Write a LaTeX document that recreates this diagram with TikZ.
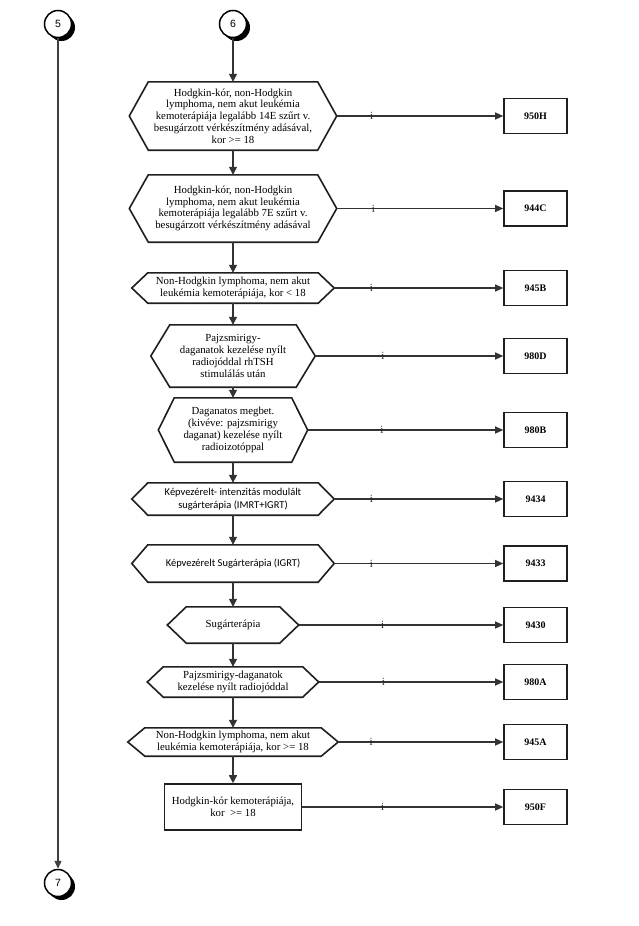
\documentclass[tikz,border=0pt]{standalone}
\usepackage{fontspec}
\setmainfont{Liberation Serif}
\newfontfamily\calibfont{Carlito}
\newfontfamily\arialfont{Liberation Sans}
\usetikzlibrary{arrows.meta,calc,shadows}
\newcommand\hexo[2]{%
  \draw[hexline] (#1.north west) -- (#1.north east) -- ([xshift=#2]#1.east)
    -- (#1.south east) -- (#1.south west) -- ([xshift=-#2]#1.west) -- cycle;
  \coordinate (#1e) at ([xshift=#2]#1.east);}
\begin{document}
\begin{tikzpicture}[x=1pt,y=-1pt,
  line join=miter,
  hexbox/.style={rectangle, inner sep=0pt, align=center, font=\fontsize{10.8}{11.8}\selectfont},
  sansbox/.style={hexbox, font=\calibfont\fontsize{10.5}{12.5}\selectfont},
  hexline/.style={draw=black!88, line width=1.6pt},
  rectbox/.style={hexbox, draw=black!88, line width=1.6pt},
  codebox/.style={draw=black!88, line width=1.6pt, minimum width=63pt, minimum height=35pt,
    inner sep=0pt, font=\fontsize{10}{12}\selectfont\bfseries},
  circ/.style={circle, draw=black, line width=1.5pt, fill=white, minimum size=27pt, inner sep=0pt,
    font=\arialfont\fontsize{10.5}{12}\selectfont,
    general shadow={fill=black, shadow xshift=3.5pt, shadow yshift=-3.5pt}},
  flow/.style={draw=black!80, line width=1.3pt, -{Triangle[length=8pt,width=8pt]}},
  yes/.style={draw=black!80, line width=1.1pt, -{Triangle[length=8pt,width=7pt]}},
  ilabel/.style={font=\fontsize{11}{12}\selectfont, inner sep=0pt, text=black!85}
]
\useasboundingbox[fill=white] (0,0) rectangle (638,926);

% connectors (circles)
\node[circ] (c5) at (58,24) {5};
\node[circ] (c6) at (233,24) {6};
\node[circ] (c7) at (58,883) {7};

% main column
\node[hexbox, minimum width=169pt, minimum height=68pt] (h1) at (233,116)
  {Hodgkin-kór, non-Hodgkin\\lymphoma, nem akut leukémia\\kemoterápiája legalább 14E szűrt v.\\besugárzott vérkészítmény adásával,\\kor >= 18};
\hexo{h1}{19pt}
\node[hexbox, minimum width=169pt, minimum height=67pt] (h2) at (233,208.5)
  {Hodgkin-kór, non-Hodgkin\\lymphoma, nem akut leukémia\\kemoterápiája legalább 7E szűrt v.\\besugárzott vérkészítmény adásával};
\hexo{h2}{19pt}
\node[hexbox, minimum width=170pt, minimum height=30pt] (h3) at (233,288)
  {Non-Hodgkin lymphoma, nem akut\\leukémia kemoterápiája, kor < 18};
\hexo{h3}{16pt}
\node[hexbox, minimum width=126pt, minimum height=62pt] (h4) at (233,356)
  {Pajzsmirigy-\\daganatok kezelése nyílt\\radiojóddal rhTSH\\stimulálás után};
\hexo{h4}{19pt}
\node[hexbox, minimum width=117pt, minimum height=64pt] (h5) at (233,430)
  {Daganatos megbet.\\(kivéve: pajzsmirigy\\daganat) kezelése nyílt\\radioizotóppal};
\hexo{h5}{16pt}
\node[sansbox, minimum width=170pt, minimum height=32pt] (h6) at (233,499)
  {Képvezérelt- intenzitás modulált\\sugárterápia (IMRT+IGRT)};
\hexo{h6}{16pt}
\node[sansbox, minimum width=170pt, minimum height=37pt] (h7) at (233,563.5)
  {Képvezérelt Sugárterápia (IGRT)};
\hexo{h7}{16pt}
\node[hexbox, minimum width=93pt, minimum height=36pt] (h8) at (233,625)
  {Sugárterápia};
\hexo{h8}{19pt}
\node[hexbox, minimum width=139pt, minimum height=30pt] (h9) at (233,682)
  {Pajzsmirigy-daganatok\\kezelése nyílt radiojóddal};
\hexo{h9}{16pt}
\node[hexbox, minimum width=176pt, minimum height=28pt] (h10) at (233,742)
  {Non-Hodgkin lymphoma, nem akut\\leukémia kemoterápiája, kor >= 18};
\hexo{h10}{17pt}
\node[rectbox, minimum width=137pt, minimum height=46pt] (r11) at (233,807)
  {Hodgkin-kór kemoterápiája,\\kor\ \ >= 18};

% code boxes
\node[codebox] (b1) at (535.5,116) {950H};
\node[codebox] (b2) at (535.5,208.5) {944C};
\node[codebox] (b3) at (535.5,288) {945B};
\node[codebox] (b4) at (535.5,356) {980D};
\node[codebox] (b5) at (535.5,430) {980B};
\node[codebox] (b6) at (535.5,499) {9434};
\node[codebox] (b7) at (535.5,563.5) {9433};
\node[codebox] (b8) at (535.5,625) {9430};
\node[codebox] (b9) at (535.5,682) {980A};
\node[codebox] (b10) at (535.5,742) {945A};
\node[codebox] (b11) at (535.5,807) {950F};

% vertical flow
\draw[draw=black!75, line width=1.1pt, -{Triangle[length=8pt,width=7pt]}] (c5) -- (c7);
\draw[flow] (c6) -- (h1);
\draw[flow] (h1) -- (h2);
\draw[flow] (h2) -- (h3);
\draw[flow] (h3) -- (h4);
\draw[flow] (h4) -- (h5);
\draw[flow] (h5) -- (h6);
\draw[flow] (h6) -- (h7);
\draw[flow] (h7) -- (h8);
\draw[flow] (h8) -- (h9);
\draw[flow] (h9) -- (h10);
\draw[flow] (h10) -- (r11);

% horizontal "i" arrows
\draw[yes] (h1e) -- node[ilabel, pos=0.21] {i} (b1);
\draw[yes] (h2e) -- node[ilabel, pos=0.22] {i} (b2);
\draw[yes] (h3e) -- node[ilabel, pos=0.22] {i} (b3);
\draw[yes] (h4e) -- node[ilabel, pos=0.36] {i} (b4);
\draw[yes] (h5e) -- node[ilabel, pos=0.38] {i} (b5);
\draw[yes] (h6e) -- node[ilabel, pos=0.22] {i} (b6);
\draw[yes] (h7e) -- node[ilabel, pos=0.22] {i} (b7);
\draw[yes] (h8e) -- node[ilabel, pos=0.41] {i} (b8);
\draw[yes] (h9e) -- node[ilabel, pos=0.35] {i} (b9);
\draw[yes] (h10e) -- node[ilabel, pos=0.20] {i} (b10);
\draw[yes] (r11) -- node[ilabel, pos=0.40] {i} (b11);
\end{tikzpicture}
\end{document}
